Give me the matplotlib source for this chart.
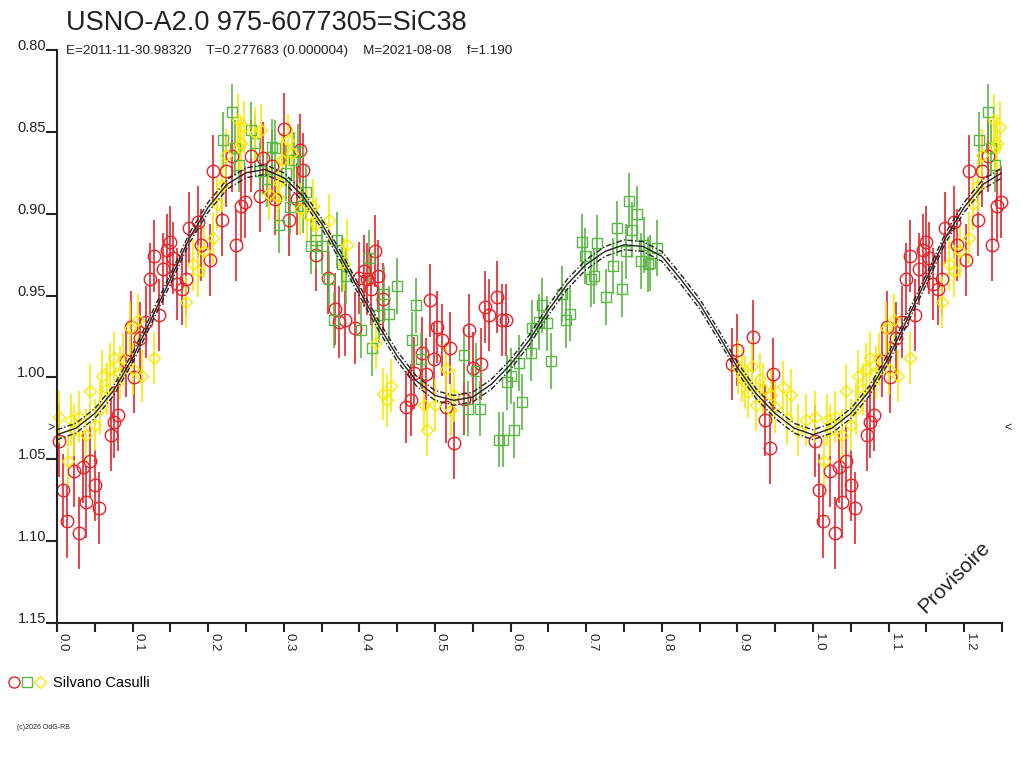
import numpy as np
import matplotlib
matplotlib.use("Agg")
import matplotlib.pyplot as plt
from matplotlib.lines import Line2D
from matplotlib.legend_handler import HandlerTuple
import matplotlib.transforms as mtransforms

plt.rcParams['font.family'] = ['Liberation Sans', 'DejaVu Sans']

title = "USNO-A2.0 975-6077305=SiC38"
subtitle = "E=2011-11-30.98320    T=0.277683 (0.000004)    M=2021-08-08    f=1.190"
observer = "Silvano Casulli"

# fitted light curve, read every 0.025 in phase
curve_phase = np.arange(41) * 0.025
curve_mag = [1.035, 1.031, 1.022, 1.008, 0.988, 0.964, 0.940, 0.915, 0.896, 0.882,
             0.875, 0.873, 0.878, 0.889, 0.906, 0.926, 0.947, 0.968, 0.987, 1.002,
             1.011, 1.014, 1.012, 1.004, 0.992, 0.977, 0.959, 0.943, 0.931, 0.923,
             0.919, 0.920, 0.926, 0.940, 0.955, 0.974, 0.994, 1.010, 1.022, 1.031,
             1.035]
curve_band = 0.003
min_level = 1.031

# red circles
red_phase = [0.002, 0.008, 0.013, 0.029, 0.023, 0.035, 0.039, 0.044, 0.050, 0.055,
             0.071, 0.076, 0.081, 0.091, 0.102, 0.098, 0.110, 0.118, 0.135, 0.123,
             0.128, 0.140, 0.145, 0.150, 0.154, 0.159, 0.165, 0.170, 0.175, 0.186,
             0.191, 0.202, 0.218, 0.206, 0.223, 0.237, 0.243, 0.249, 0.269, 0.232,
             0.257, 0.285, 0.326, 0.321, 0.343, 0.358, 0.368, 0.373, 0.381, 0.307,
             0.288, 0.318, 0.300, 0.272, 0.394, 0.400, 0.406, 0.410, 0.415, 0.425,
             0.421, 0.431, 0.462, 0.468, 0.472, 0.483, 0.488, 0.493, 0.499, 0.503,
             0.509, 0.520, 0.514, 0.525, 0.538, 0.545, 0.550, 0.561, 0.566, 0.571,
             0.582, 0.588, 0.594, 0.893, 0.900, 0.921, 0.947, 0.943, 0.937]
red_mag = [1.039, 1.069, 1.088, 1.095, 1.057, 1.055, 1.076, 1.051, 1.066, 1.080,
           1.035, 1.027, 1.023, 0.990, 1.000, 0.969, 0.976, 0.966, 0.962, 0.940,
           0.926, 0.934, 0.922, 0.917, 0.927, 0.943, 0.946, 0.940, 0.909, 0.905,
           0.919, 0.928, 0.904, 0.874, 0.874, 0.919, 0.895, 0.893, 0.889, 0.865,
           0.865, 0.871, 0.873, 0.861, 0.925, 0.939, 0.958, 0.966, 0.965, 0.904,
           0.891, 0.891, 0.848, 0.866, 0.970, 0.939, 0.935, 0.940, 0.946, 0.938,
           0.923, 0.952, 1.018, 1.014, 0.997, 0.985, 0.998, 0.953, 0.989, 0.969,
           0.977, 0.982, 1.018, 1.040, 1.013, 0.971, 0.994, 0.992, 0.957, 0.962,
           0.951, 0.965, 0.965, 0.992, 0.983, 0.975, 0.998, 1.043, 1.026]
red_err = 0.022

# green squares
green_phase = [0.231, 0.256, 0.219, 0.236, 0.262, 0.284, 0.288, 0.319, 0.241, 0.268,
               0.278, 0.293, 0.303, 0.308, 0.314, 0.330, 0.325, 0.336, 0.343, 0.351,
               0.360, 0.371, 0.366, 0.377, 0.382, 0.413, 0.433, 0.439, 0.450, 0.475,
               0.470, 0.481, 0.402, 0.417, 0.426, 0.538, 0.554, 0.544, 0.559, 0.595,
               0.600, 0.584, 0.590, 0.605, 0.615, 0.611, 0.627, 0.628, 0.637, 0.641,
               0.648, 0.653, 0.668, 0.673, 0.678, 0.694, 0.699, 0.706, 0.710, 0.714,
               0.726, 0.736, 0.741, 0.747, 0.752, 0.757, 0.761, 0.767, 0.773, 0.777,
               0.782, 0.793, 0.785]
green_mag = [0.838, 0.849, 0.855, 0.860, 0.857, 0.859, 0.860, 0.862, 0.870, 0.874,
             0.879, 0.907, 0.875, 0.896, 0.867, 0.887, 0.895, 0.920, 0.916, 0.920,
             0.940, 0.916, 0.965, 0.931, 0.938, 0.927, 0.949, 0.961, 0.944, 0.956,
             0.977, 0.989, 0.971, 0.982, 0.962, 0.986, 0.996, 1.019, 1.019, 1.003,
             0.999, 1.038, 1.038, 1.032, 1.015, 0.991, 0.985, 0.970, 0.966, 0.956,
             0.967, 0.990, 0.949, 0.965, 0.961, 0.917, 0.926, 0.940, 0.938, 0.918,
             0.951, 0.932, 0.909, 0.946, 0.923, 0.892, 0.910, 0.900, 0.929, 0.919,
             0.931, 0.921, 0.930]
green_err = 0.017

# yellow diamonds
yellow_phase = [0.003, 0.014, 0.018, 0.029, 0.023, 0.039, 0.044, 0.050, 0.057, 0.060,
                0.066, 0.070, 0.076, 0.083, 0.100, 0.113, 0.128, 0.087, 0.096, 0.107,
                0.171, 0.180, 0.186, 0.194, 0.206, 0.212, 0.218, 0.224, 0.241, 0.280,
                0.292, 0.294, 0.298, 0.321, 0.331, 0.343, 0.360, 0.239, 0.248, 0.270,
                0.262, 0.244, 0.306, 0.311, 0.338, 0.384, 0.380, 0.422, 0.431, 0.437,
                0.442, 0.485, 0.489, 0.500, 0.515, 0.521, 0.525, 0.901, 0.906, 0.910,
                0.914, 0.919, 0.924, 0.930, 0.934, 0.945, 0.950, 0.960, 0.966, 0.971,
                0.980, 0.991]
yellow_mag = [1.024, 1.051, 1.026, 1.024, 1.032, 1.035, 1.008, 1.029, 1.019, 0.999,
              1.007, 0.995, 0.988, 0.997, 0.995, 0.999, 0.988, 0.989, 0.970, 0.965,
              0.954, 0.931, 0.935, 0.923, 0.915, 0.894, 0.883, 0.864, 0.859, 0.888,
              0.890, 0.881, 0.867, 0.897, 0.901, 0.906, 0.904, 0.843, 0.847, 0.849,
              0.851, 0.857, 0.855, 0.863, 0.895, 0.919, 0.931, 0.979, 1.010, 1.014,
              1.005, 1.017, 1.032, 1.017, 0.995, 1.020, 1.011, 0.994, 0.999, 1.003,
              1.009, 0.993, 1.017, 1.001, 1.007, 1.011, 1.018, 1.006, 1.025, 1.011,
              1.032, 1.026]
yellow_err = 0.016

RED = '#e8232b'
GREEN = '#5cb646'
YELLOW = '#f7ea00'
INK = '#222222'


def extend(ph, mag):
    # repeat the start of the cycle after phase 1
    ph = np.asarray(ph)
    mag = np.asarray(mag)
    sel = ph <= 0.25
    return np.concatenate([ph, ph[sel] + 1]), np.concatenate([mag, mag[sel]])


fig = plt.figure(figsize=(10.24, 7.68), dpi=100)
ax = fig.add_axes([57 / 1024, 1 - 623 / 768, (1002 - 57) / 1024, (623 - 50) / 768])

series = [(red_phase, red_mag, red_err, 'o', RED, 9),
          (green_phase, green_mag, green_err, 's', GREEN, 7.5),
          (yellow_phase, yellow_mag, yellow_err, 'D', YELLOW, 6.5)]
for ph, mg, er, mk, col, ms in series:
    x, y = extend(ph, mg)
    cont = ax.errorbar(x, y, yerr=er, fmt=mk, mfc='none', mec=col, mew=1.0, ms=ms,
                       ecolor=col, elinewidth=1.2, capsize=0)
    for art in cont.get_children():
        art.set_clip_on(False)

cx, cy = extend(curve_phase, curve_mag)
cx, cy = cx[1:], cy[1:]
order = np.argsort(cx)
cx, cy = cx[order], cy[order]
cx = np.concatenate([[0.0], cx])
cy = np.concatenate([[curve_mag[0]], cy])
ax.plot(cx, cy, color=INK, lw=1.0, zorder=5)
ax.plot(cx, cy - curve_band, color=INK, lw=1.0, ls=(0, (4, 1.5, 1, 1.5)), zorder=5)
ax.plot(cx, cy + curve_band, color=INK, lw=1.0, ls=(0, (4, 1.5, 1, 1.5)), zorder=5)

ax.set_xlim(0, 1.25)
ax.set_ylim(1.15, 0.80)

for s in ['top', 'right']:
    ax.spines[s].set_visible(False)
for s in ['left', 'bottom']:
    ax.spines[s].set_linewidth(1.5)
    ax.spines[s].set_color(INK)

xt = np.round(np.arange(0, 1.21, 0.1), 2)
ax.set_xticks(xt)
ax.set_xticklabels(['%.1f' % v for v in xt])
ax.set_xticks(np.round(np.arange(0.05, 1.26, 0.1), 2), minor=True)
ax.tick_params(axis='x', which='both', direction='out', length=6.5, width=1.5,
               color=INK, labelsize=9.5, pad=1, labelcolor=INK)
for lab in ax.get_xticklabels():
    lab.set_rotation(-90)
    lab.set_ha('left')
    lab.set_va('top')

yt = np.round(np.arange(0.80, 1.151, 0.05), 2)
ax.set_yticks(yt)
ax.set_yticklabels(['%.2f' % v for v in yt])
ax.tick_params(axis='y', direction='out', length=8, width=1.5, color=INK,
               labelsize=10.5, pad=0, labelcolor=INK)
for lab in ax.get_yticklabels():
    lab.set_va('baseline')

trans = mtransforms.blended_transform_factory(ax.transAxes, ax.transData)
ax.text(-0.002, min_level, '>', transform=trans, ha='right', va='center',
        fontsize=9, color=INK)
ax.text(1.002, min_level, '<', transform=trans, ha='left', va='center',
        fontsize=9, color=INK)

ax.text(0.949, 0.08, 'Provisoire', transform=ax.transAxes, rotation=45,
        ha='center', va='center', fontsize=15, color=INK)

fig.text(66 / 1024, 1 - 30 / 768, title, fontsize=19.5, color=INK, va='baseline')
fig.text(66 / 1024, 1 - 54 / 768, subtitle, fontsize=9.7, color=INK, va='baseline')
fig.text(17 / 1024, 1 - 729 / 768, '(c)2026 OdG-RB', fontsize=5, color=INK,
         va='baseline')

h_r = Line2D([], [], marker='o', ls='none', mfc='none', mec=RED, ms=8)
h_g = Line2D([], [], marker='s', ls='none', mfc='none', mec=GREEN, ms=6.5)
h_y = Line2D([], [], marker='D', ls='none', mfc='none', mec=YELLOW, ms=6)
fig.legend(handles=[(h_r, h_g, h_y)], labels=[observer],
           handler_map={tuple: HandlerTuple(ndivide=None, pad=0.1)},
           loc='center left', bbox_to_anchor=(8 / 1024, 1 - 683 / 768),
           frameon=False, fontsize=10.5, handlelength=2.6, handletextpad=0.5,
           borderpad=0, borderaxespad=0)

fig.savefig('out.png', dpi=100)
